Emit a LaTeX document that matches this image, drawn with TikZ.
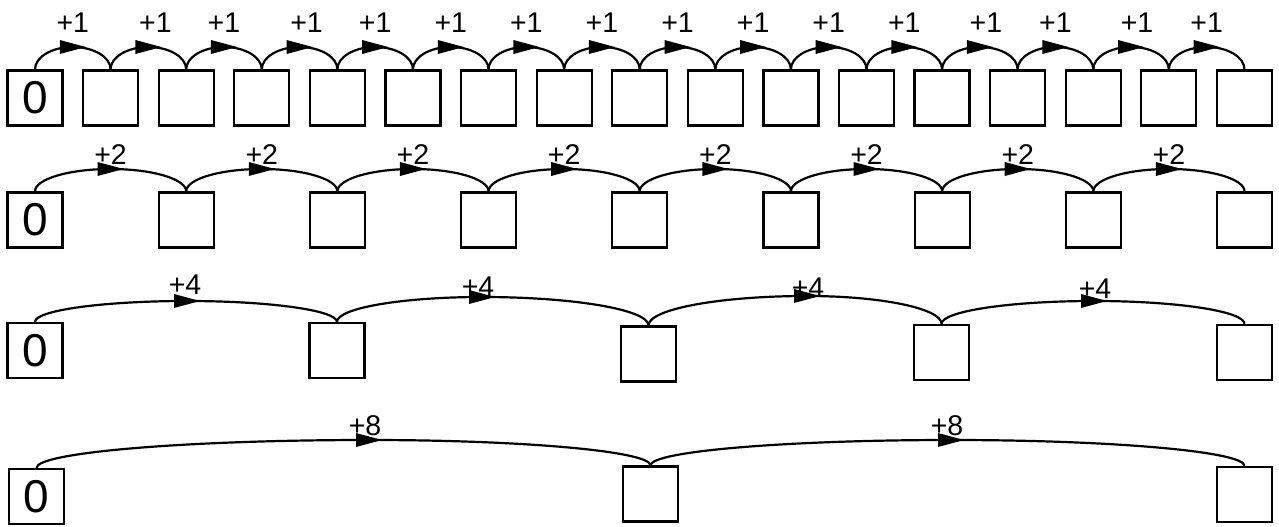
\documentclass[tikz,border=0pt]{standalone}
\usepackage{fontspec}
\setmainfont{Liberation Sans}
\usetikzlibrary{calc}
\tikzset{
  cell/.style={draw, line width=2.2pt, minimum width=55pt, minimum height=55pt, inner sep=0pt, font=\fontsize{46}{50}\selectfont},
  hopline/.style={line width=2.2pt},
  lbl/.style={inner sep=0pt, text height=20pt, text depth=0pt, font=\fontsize{28.5}{32}\selectfont},
}
\newcommand\hop[3]{%
  \draw[hopline] (#1.north) .. controls ($(#1.north)!0.5523!(#1.north|-#2)$) and ($(#2)!0.5523!(#2-|#1.north)$) .. (#2)
     .. controls ($(#2)!0.5523!(#2-|#3.north)$) and ($(#3.north)!0.5523!(#3.north|-#2)$) .. (#3.north);
  \fill (#2) ++(-13,-7) -- ++(26,7) -- ++(-26,7) -- cycle;
}
\begin{document}
\begin{tikzpicture}[x=1pt,y=-1pt]
\useasboundingbox (0,0) rectangle (1279,527);
% row 1
\node[cell] (a0) at (35,98) {0};
\foreach \i in {1,...,16} \node[cell] (a\i) at ({35+75.59*\i},98) {};
\foreach \i/\dx in {0/0,1/7,2/0,3/7,4/0,5/0,6/0,7/0,8/0,9/0,10/0,11/0,12/6,13/0,14/6,15/0} {
  \pgfmathtruncatemacro\j{\i+1}
  \coordinate (pa\i) at ({35+75.59*(\i+0.5)},47);
  \hop{a\i}{pa\i}{a\j}
  \node[lbl] (la\i) at ({35+75.59*(\i+0.5)+\dx},22.5) {+1};
}
% row 2
\node[cell] (b0) at (35,220) {0};
\foreach \i in {1,...,8} \node[cell] (b\i) at ({35+151.19*\i},220) {};
\foreach \i in {0,...,7} {
  \pgfmathtruncatemacro\j{\i+1}
  \coordinate (pb\i) at ({35+151.19*(\i+0.5)},169);
  \hop{b\i}{pb\i}{b\j}
  \node[lbl] (lb\i) at ({35+151.19*(\i+0.5)},154) {+2};
}
% row 3
\node[cell] (c0) at (35,350.5) {0};
\node[cell] (c1) at (337,350.5) {};
\node[cell] (c2) at (648.5,354) {};
\node[cell] (c3) at (941.5,352.5) {};
\node[cell] (c4) at (1244.5,352.5) {};
\coordinate (pc0) at (187,301);
\coordinate (pc1) at (482,297);
\coordinate (pc2) at (807,296);
\coordinate (pc3) at (1094,301);
\hop{c0}{pc0}{c1}
\hop{c1}{pc1}{c2}
\hop{c2}{pc2}{c3}
\hop{c3}{pc3}{c4}
\node[lbl] (lc0) at (185,284) {+4};
\node[lbl] (lc1) at (478,286) {+4};
\node[lbl] (lc2) at (808,287) {+4};
\node[lbl] (lc3) at (1095,288) {+4};
% row 4
\node[cell] (d0) at (36.5,496.5) {0};
\node[cell] (d1) at (650.5,494) {};
\node[cell] (d2) at (1244.5,494.5) {};
\coordinate (pd0) at (369,440);
\coordinate (pd1) at (951,440);
\hop{d0}{pd0}{d1}
\hop{d1}{pd1}{d2}
\node[lbl] (ld0) at (365,425) {+8};
\node[lbl] (ld1) at (947,425) {+8};
\end{tikzpicture}
\end{document}
